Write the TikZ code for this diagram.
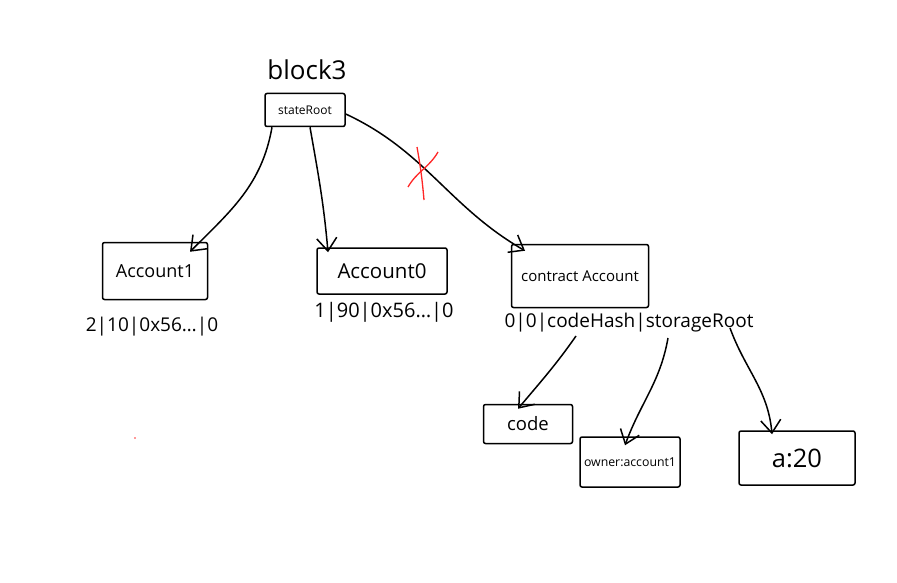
\documentclass[tikz,border=0pt]{standalone}
\usepackage{fontspec}
\setmainfont{Open Sans}
\usetikzlibrary{arrows.meta,positioning}

\begin{document}
\begin{tikzpicture}[x=1pt,y=-1pt,
    box/.style={draw, line width=1.5pt, rounded corners=2pt, inner sep=0pt},
    field/.style={inner sep=0pt, font=\fontsize{19}{22}\selectfont},
    link/.style={line width=1.5pt, -{Straight Barb[length=13pt,width=20pt,line width=1.5pt]}},
    cross/.style={red!85!white, line width=1.3pt}]
   \useasboundingbox (0,0) rectangle (897,583);

   \node[inner sep=0pt, font=\fontsize{26}{30}\selectfont] (blk) at (307,70) {block3};
   \node[box, minimum width=80, minimum height=33, font=\fontsize{12}{14}\selectfont] (root) at (305,110) {stateRoot};

   \node[box, minimum width=105, minimum height=57, font=\fontsize{18}{21}\selectfont] (acc1) at (155,271) {Account1};
   \node[box, minimum width=130, minimum height=46, font=\fontsize{20.5}{24}\selectfont] (acc0) at (382,271) {Account0};
   \node[box, minimum width=137, minimum height=63, font=\fontsize{15}{18}\selectfont] (cacc) at (580,276) {contract Account};

   \node[field] (f1) at (152,327) {2|10|0x56…|0};
   \node[field, font=\fontsize{20}{23}\selectfont] (f0) at (384,312) {1|90|0x56…|0};
   \node[field] (fc) at (629,323) {0|0|codeHash|storageRoot};

   \node[box, minimum width=89, minimum height=39, font=\fontsize{18.5}{22}\selectfont] (code) at (528,424) {code};
   \node[box, minimum width=100, minimum height=50, font=\fontsize{12.3}{15}\selectfont] (owner) at (630,462) {owner:account1};
   \node[box, minimum width=116, minimum height=54, font=\fontsize{25.5}{30}\selectfont] (aval) at (797,458) {a:20};

   \coordinate (hashpt) at (576,336);
   \coordinate (storept) at (668,338);
   \coordinate (rootpt) at (730,328);

   \draw[link] ([xshift=-33pt]root.south) to[out=-100,in=45] ([xshift=35pt,yshift=-10pt]acc1.north);
   \draw[link] ([xshift=5pt]root.south) to[out=-80,in=95] ([xshift=-54pt,yshift=-5pt]acc0.north);
   \draw[link] ([yshift=-4pt]root.east) to[out=-25,in=150] ([xshift=-55pt,yshift=-7pt]cacc.north);

   \draw[link] (hashpt) to[out=-125,in=50] ([xshift=-10pt,yshift=-5pt]code.north);
   \draw[link] (storept) to[out=-100,in=70] ([xshift=-5pt,yshift=-9pt]owner.north);
   \draw[link] (rootpt) to[out=-70,in=95] ([xshift=-25pt,yshift=-4pt]aval.north);

   % red cross on the third link
   \draw[cross] (417,147) to[out=-80,in=95] (424,200);
   \draw[cross] (438,152) to[out=-120,in=60] (408,187);
   \fill[red!80!white] (135,438) circle (0.8pt);
\end{tikzpicture}
\end{document}
